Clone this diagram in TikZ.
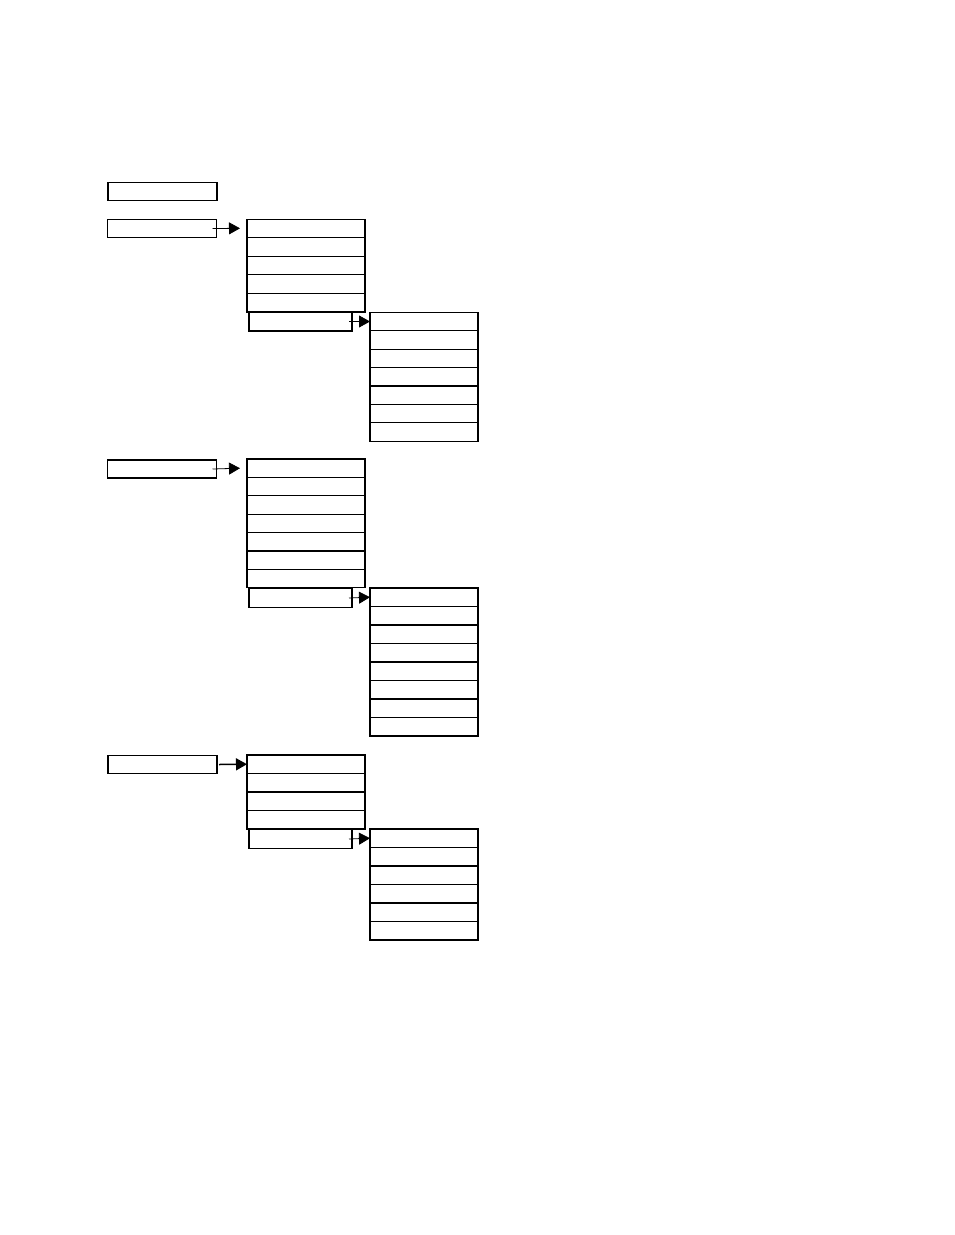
\documentclass[tikz,border=0pt]{standalone}
\usepackage{tikz}
\usetikzlibrary{arrows.meta, positioning, calc}

\begin{document}
\begin{tikzpicture}[x=1pt, y=-1pt,
    topbox/.style={draw, line width=1.1pt, minimum width=109pt, minimum height=18pt, inner sep=0pt, outer sep=0pt},
    menurow/.style={draw, line width=1.1pt, minimum width=118pt, minimum height=18.5pt, inner sep=0pt, outer sep=0pt},
    subrow/.style={draw, line width=1.1pt, minimum width=108pt, minimum height=18.5pt, inner sep=0pt, outer sep=0pt},
    openbox/.style={draw, line width=1.1pt, minimum width=103pt, minimum height=19pt, inner sep=0pt, outer sep=0pt},
    arr/.style={-{Triangle[length=11pt, width=12pt]}, line width=0.8pt}]
        % Rand
        \useasboundingbox (0,0) rectangle (954,1235);
        % Kopf
        \node[topbox] (head) at (162.5,191.5) {};
        % Gruppe 1
        \node[topbox] (g1) at (162,228.5) {};
        \foreach \i in {1,...,5}{
            \node[menurow] (m1-\i) at (306,{228.3+(\i-1)*18.6}) {};}
        \node[openbox] (o1) at (300.5,321.5) {};
        \foreach \i in {1,...,7}{
            \node[subrow] (s1-\i) at (424,{321.5+(\i-1)*18.4}) {};}
        \draw[arr] ([xshift=-4pt]g1.east) -- ([xshift=-7pt]m1-1.west);
        \draw[arr] ([xshift=-3pt]o1.east) -- (s1-1.west);
        % Gruppe 2
        \node[topbox] (g2) at (162,469) {};
        \foreach \i in {1,...,7}{
            \node[menurow] (m2-\i) at (306,{468.2+(\i-1)*18.4}) {};}
        \node[openbox] (o2) at (300.5,598) {};
        \foreach \i in {1,...,8}{
            \node[subrow] (s2-\i) at (424,{597.2+(\i-1)*18.5}) {};}
        \draw[arr] ([xshift=-4pt]g2.east) -- ([xshift=-7pt]m2-1.west);
        \draw[arr] ([xshift=-3pt]o2.east) -- (s2-1.west);
        % Gruppe 3
        \node[topbox] (g3) at (162.5,764.5) {};
        \foreach \i in {1,...,4}{
            \node[menurow] (m3-\i) at (306,{764.2+(\i-1)*18.5}) {};}
        \node[openbox] (o3) at (300.5,839) {};
        \foreach \i in {1,...,6}{
            \node[subrow] (s3-\i) at (424,{838.2+(\i-1)*18.5}) {};}
        \draw[arr, line width=1.5pt] ([xshift=2pt]g3.east) -- (m3-1.west);
        \draw[arr] ([xshift=-3pt]o3.east) -- (s3-1.west);
    \end{tikzpicture}
\end{document}
